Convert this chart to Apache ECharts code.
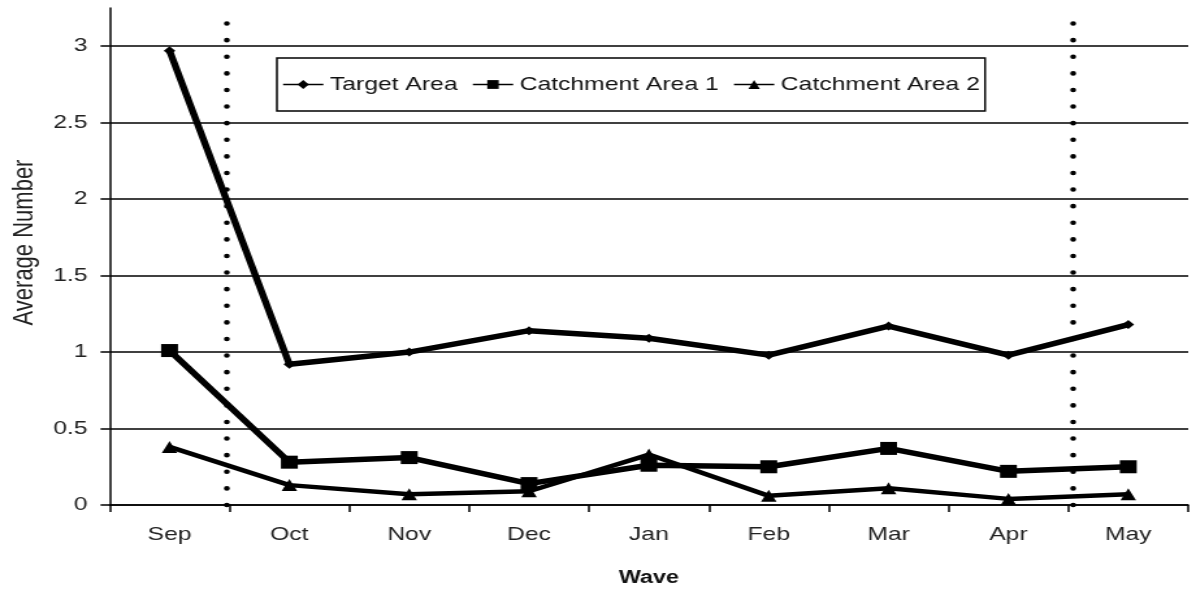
<!DOCTYPE html>
<html>
<head>
<meta charset="utf-8">
<script src="https://cdn.jsdelivr.net/npm/echarts@6/dist/echarts.min.js"></script>
<style>
  html, body { margin: 0; padding: 0; background: #fff; overflow: hidden; }
  /* the original figure is stretched sideways, so draw narrow and widen */
  #chart { width: 916px; height: 592px; transform: scaleX(1.3); transform-origin: 0 0; }
</style>
</head>
<body>
<div id="chart"></div>
<script>
var waves = ['Sep', 'Oct', 'Nov', 'Dec', 'Jan', 'Feb', 'Mar', 'Apr', 'May'];
var targetArea = [2.97, 0.92, 1.0, 1.14, 1.09, 0.98, 1.17, 0.98, 1.18];
var catchment1 = [1.01, 0.28, 0.31, 0.14, 0.26, 0.25, 0.37, 0.22, 0.25];
var catchment2 = [0.38, 0.13, 0.07, 0.09, 0.33, 0.06, 0.11, 0.04, 0.07];
// dotted separators, in category-boundary units
var separators = [0.98, 8.04];

var myChart = echarts.init(document.getElementById('chart'));
var font = 'Liberation Sans, Arial, sans-serif';

var option = {
  animation: false,
  textStyle: { fontFamily: font },
  grid: { left: 81, right: 2, top: 8, bottom: 84 },
  legend: {
    left: 213, top: 58,
    padding: [17, 4, 17, 4],
    itemGap: 11,
    itemWidth: 31, itemHeight: 11,
    borderColor: '#000', borderWidth: 1.5,
    lineStyle: { width: 1.5 },
    textStyle: { fontSize: 19, color: '#111', fontFamily: font },
    data: ['Target Area', 'Catchment Area 1', 'Catchment Area 2']
  },
  xAxis: [{
    type: 'category',
    data: waves,
    boundaryGap: true,
    name: 'Wave',
    nameLocation: 'middle',
    nameGap: 64,
    nameTextStyle: { fontSize: 18, fontWeight: 'bold', color: '#111' },
    axisLine: { lineStyle: { color: '#000', width: 1.5 } },
    axisTick: { show: true, length: 7, lineStyle: { color: '#000', width: 1.5 } },
    axisLabel: { fontSize: 19, color: '#222', margin: 20 },
    splitLine: { show: false }
  }, {
    type: 'value', min: 0, max: 9, show: false
  }],
  yAxis: {
    type: 'value',
    min: 0, max: 3.25, interval: 0.5,
    name: 'Average Number',
    nameLocation: 'middle',
    nameGap: 48,
    nameRotate: 90,
    nameTextStyle: { fontSize: 22, color: '#222', padding: [0, 0, 0, 28] },
    axisLine: { show: true, lineStyle: { color: '#000', width: 1.5 } },
    axisTick: { show: true, length: 7, lineStyle: { color: '#000', width: 1.5 } },
    axisLabel: { fontSize: 19, color: '#222', margin: 17, showMaxLabel: false },
    splitLine: { show: true, showMaxLine: false, lineStyle: { color: '#000', width: 1.6 } }
  },
  series: [{
    name: 'Target Area',
    type: 'line',
    data: targetArea,
    symbol: 'diamond', symbolSize: 9,
    itemStyle: { color: '#000' },
    lineStyle: { color: '#000', width: 5.5 },
    z: 5
  }, {
    name: 'Catchment Area 1',
    type: 'line',
    data: catchment1,
    symbol: 'rect', symbolSize: 13,
    itemStyle: { color: '#000' },
    lineStyle: { color: '#000', width: 5.5 },
    z: 5
  }, {
    name: 'Catchment Area 2',
    type: 'line',
    data: catchment2,
    symbol: 'triangle', symbolSize: 12,
    itemStyle: { color: '#000' },
    lineStyle: { color: '#000', width: 4.5 },
    z: 5
  }, {
    type: 'line',
    xAxisIndex: 1,
    data: [],
    markLine: {
      silent: true,
      symbol: 'none',
      label: { show: false },
      lineStyle: { color: '#000', width: 4.5, type: [0.1, 16.5], cap: 'round' },
      data: separators.map(function (v) { return { xAxis: v }; })
    }
  }]
};

myChart.setOption(option);
window.addEventListener('resize', function () { myChart.resize(); });
</script>
</body>
</html>
